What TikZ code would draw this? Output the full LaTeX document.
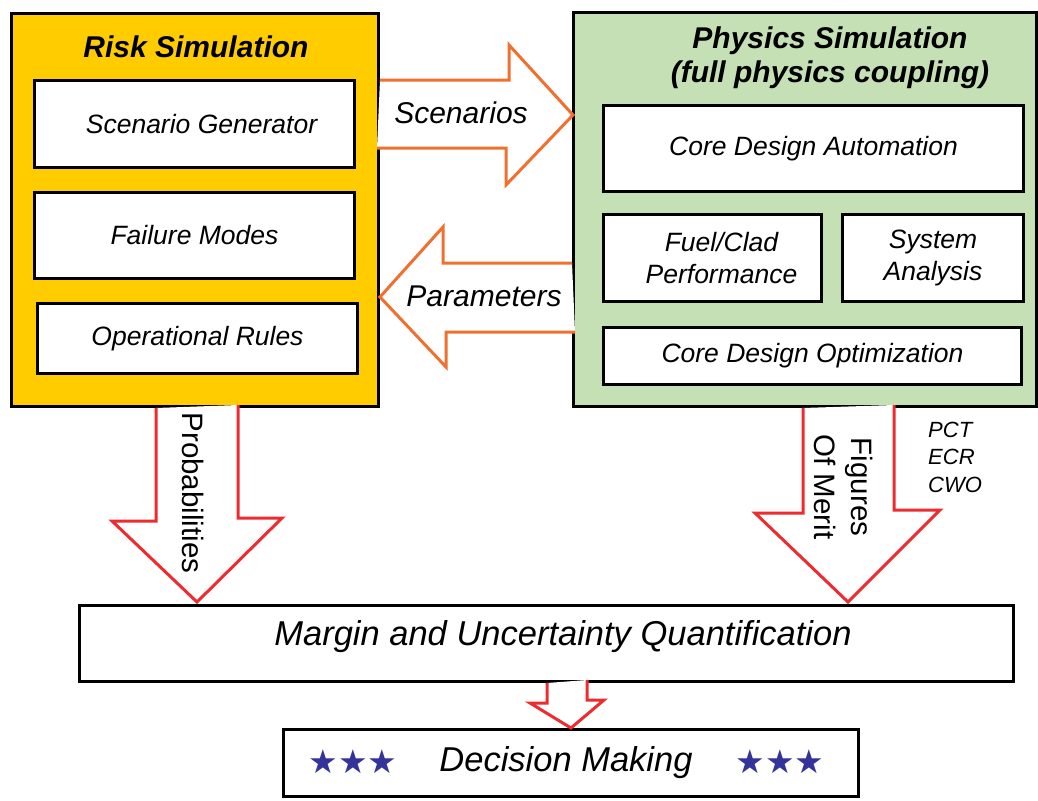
\documentclass[tikz,border=0pt]{standalone}
\usepackage{fontspec}
\setmainfont{Liberation Sans}
\newfontfamily\symfont{DejaVu Sans}
\usetikzlibrary{calc}

\definecolor{riskfill}{HTML}{FFCC00}
\definecolor{physfill}{HTML}{C5E0B4}
\definecolor{floworange}{HTML}{F07030}
\definecolor{flowred}{HTML}{EE2B2E}
\definecolor{starblue}{HTML}{333399}

\tikzset{
  panel/.style={draw=black, line width=3pt, anchor=north west, inner sep=0pt},
  item/.style={draw=black, line width=3pt, fill=white, anchor=north west,
    inner sep=0pt, align=center, font=\fontsize{26.5}{32}\selectfont\itshape},
  paneltitle/.style={align=center, inner sep=0pt, font=\fontsize{30}{34}\selectfont\bfseries\itshape},
  orangearrow/.style={draw=floworange, fill=white, line width=3pt, line join=miter},
  redarrow/.style={draw=flowred, fill=white, line width=3pt, line join=miter},
  flowlabel/.style={inner sep=0pt, font=\fontsize{30}{34}\selectfont\itshape},
  downlabel/.style={inner sep=0pt, rotate=-90, align=center, font=\fontsize{29.5}{37}\selectfont},
  notelabel/.style={inner sep=0pt, anchor=west, align=left, font=\fontsize{22}{27.5}\selectfont\itshape},
  bigtext/.style={inner sep=0pt, font=\fontsize{34.5}{40}\selectfont\itshape},
  stars/.style={inner sep=0pt, text=starblue, font=\symfont\fontsize{33}{38}\selectfont},
}

\begin{document}
\begin{tikzpicture}[x=1pt, y=-1pt]
  \useasboundingbox (0,0) rectangle (1038,800);

  % Risk simulation panel
  \node[panel, fill=riskfill, minimum width=367, minimum height=393] (risk) at (10,12) {};
  \node[paneltitle] (risktitle) at (196,47) {Risk Simulation};
  \node[item, minimum width=320, minimum height=87] (scengen) at (33,79) {\hspace*{14pt}Scenario Generator};
  \node[item, minimum width=320, minimum height=86] (failmodes) at (33,191) {Failure Modes};
  \node[item, minimum width=320, minimum height=70] (oprules) at (36,302) {Operational Rules};

  % Physics simulation panel
  \node[panel, fill=physfill, minimum width=463, minimum height=394] (phys) at (572,11) {};
  \node[paneltitle] (phystitle) at (830,58) {Physics Simulation\\(full physics coupling)};
  \node[item, minimum width=420, minimum height=86] (cda) at (602,104) {Core Design Automation};
  \node[item, minimum width=218, minimum height=87] (fuel) at (602,213) {\hspace*{18pt}Fuel/Clad\\\hspace*{18pt}Performance};
  \node[item, minimum width=181, minimum height=87] (sysan) at (841,213) {System\\Analysis};
  \node[item, minimum width=418, minimum height=57] (cdo) at (602,326) {Core Design Optimization};

  % Scenarios: risk -> physics
  \draw[orangearrow] ($(risk.north east)+(0,68)$) -- ++(129,0) -- ++(0,-35)
    -- ($(phys.north west)+(1,104)$) -- ++(-67,70) -- ++(0,-37) -- ++(-129,0);
  \node[flowlabel] (scenlabel) at (461,113) {Scenarios};

  % Parameters: physics -> risk
  \draw[orangearrow] ($(phys.north west)+(0,252)$) -- ++(-129,0) -- ++(0,-36)
    -- ($(risk.north east)+(0,285)$) -- ++(66,70) -- ++(0,-35) -- ++(129,0);
  \node[flowlabel] (paramlabel) at (484,296) {Parameters};

  % Margin and decision boxes
  \node[panel, fill=white, minimum width=934, minimum height=76] (margin) at (78,604) {};
  \node[bigtext] (margintext) at (563,637) {Margin and Uncertainty Quantification};
  \node[panel, fill=white, minimum width=575, minimum height=67] (decision) at (282,728) {};
  \node[bigtext] (decisiontext) at (566,763) {Decision Making};
  \node[stars] (starsleft) at (353,762) {★★★};
  \node[stars] (starsright) at (780,762) {★★★};

  % Probabilities: risk -> margin
  \draw[redarrow] ($(risk.south west)+(146,0)$) -- ++(0,113) -- ++(-44,0)
    -- ($(margin.north west)+(119,-2)$) -- ++(85,-84) -- ++(-44,0) -- ++(0,-113);
  \node[downlabel] (problabel) at (193,493) {Probabilities};

  % Figures of merit: physics -> margin
  \draw[redarrow] ($(phys.south west)+(231,0)$) -- ++(0,105) -- ++(-48,0)
    -- ($(margin.north west)+(770,-2)$) -- ++(92,-92) -- ++(-46,0) -- ++(0,-105);
  \node[downlabel] (fomlabel) at (844,487) {Figures\\Of Merit};
  \node[notelabel] (fomnote) at (928,457) {PCT\\ECR\\CWO};

  % Margin -> decision
  \draw[redarrow] ($(margin.south west)+(469,0)$) -- ++(0,20) -- ++(-17,0)
    -- (decision.north) -- ++(33,-28) -- ++(-17,0) -- ++(0,-20);
\end{tikzpicture}
\end{document}
